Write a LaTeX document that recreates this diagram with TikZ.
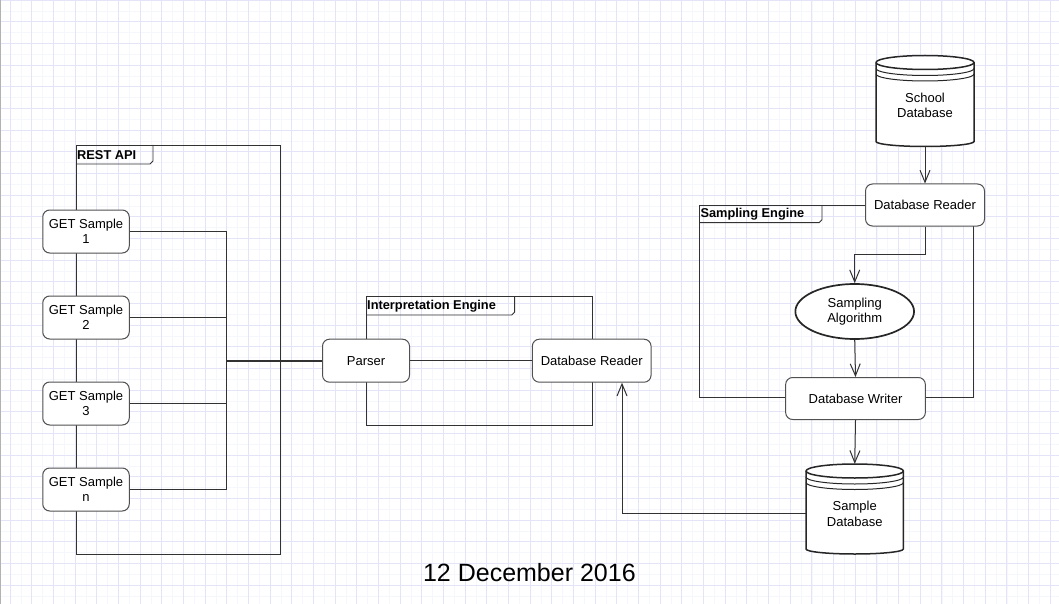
\documentclass[tikz,border=0pt]{standalone}
\usepackage{fontspec}
\setmainfont{Liberation Sans}
\usetikzlibrary{arrows.meta,calc,shapes.geometric}
\definecolor{gridA}{RGB}{228,228,249}
\definecolor{gridB}{RGB}{246,246,253}
\definecolor{edgec}{RGB}{50,50,50}
\definecolor{boxline}{RGB}{80,80,80}
\newcommand\dbcyl[4]{%
  \filldraw[draw=black!85, fill=white, line width=1.5pt]
    ({#1-#4},{#2+7}) -- ({#1-#4},{#3-5})
    arc[start angle=180,end angle=360,x radius=#4pt,y radius=5pt]
    -- ({#1+#4},{#2+7})
    arc[start angle=0,end angle=180,x radius=#4pt,y radius=7pt] -- cycle;
  \draw[black!85, line width=1.5pt] ({#1-#4},{#2+7})
    arc[start angle=180,end angle=360,x radius=#4pt,y radius=7pt];
  \draw[black!85, line width=1pt] ({#1-#4},{#2+13})
    arc[start angle=180,end angle=360,x radius=#4pt,y radius=7pt];
  \draw[black!85, line width=1pt] ({#1-#4},{#2+18.5})
    arc[start angle=180,end angle=360,x radius=#4pt,y radius=7pt];
}
\begin{document}
\begin{tikzpicture}[x=1pt,y=-1pt,
  txt/.style={font=\fontsize{13}{15.5}\selectfont, align=center},
  rbox/.style={txt, draw=boxline, fill=white, line width=1pt, rounded corners=7pt, inner sep=0pt},
  frameline/.style={draw=edgec, line width=0.95pt},
  tablbl/.style={font=\bfseries\fontsize{12.8}{15}\selectfont, anchor=west, inner sep=1pt},
  conn/.style={draw=edgec, line width=1pt},
  arr/.style={conn, -{Straight Barb[length=12pt,width=10pt,line width=1pt]}},
  cylhold/.style={inner sep=0pt, draw=none},
]
\useasboundingbox (0,0) rectangle (1059,604);
\fill[white] (0,0) rectangle (1059,604);
% grid
\foreach \i in {0,...,98} {\draw[gridB, line width=0.6pt] ({10+10.835*\i},0) -- ({10+10.835*\i},604);}
\foreach \i in {0,...,56} {\draw[gridB, line width=0.6pt] (0,{10.835*\i}) -- (1059,{10.835*\i});}
\foreach \i in {0,...,49} {\draw[gridA, line width=0.9pt] ({10+21.67*\i},0) -- ({10+21.67*\i},604);}
\foreach \i in {0,...,28} {\draw[gridA, line width=0.9pt] (0,{21.67*\i}) -- (1059,{21.67*\i});}
\draw[black!30, line width=1pt] (0.5,0) -- (0.5,604);

% frames
\draw[frameline] (76,145) rectangle (280,554);
\draw[frameline] (76,164) -- (150,164) -- (153,161) -- (153,145);
\node[tablbl] (tabrest) at (76,155) {REST API};

\draw[frameline] (366,296) rectangle (592,425.3);
\draw[frameline] (366,315) -- (511.7,315) -- (514.7,312) -- (514.7,296);
\node[tablbl] (tabinterp) at (366,306) {Interpretation Engine};

\draw[frameline] (699.3,205) rectangle (973.3,397.7);
\draw[frameline] (699.3,222.7) -- (819,222.7) -- (822,219.7) -- (822,205);
\node[tablbl] (tabsamp) at (699.3,214.3) {Sampling Engine};

% nodes
\node[rbox, minimum width=86.5pt, minimum height=43pt] (g1) at (86,231.5) {GET Sample\\1};
\node[rbox, minimum width=86.5pt, minimum height=43pt] (g2) at (86,317.5) {GET Sample\\2};
\node[rbox, minimum width=86.5pt, minimum height=43pt] (g3) at (86,403.5) {GET Sample\\3};
\node[rbox, minimum width=86.5pt, minimum height=43pt] (gn) at (86,489.5) {GET Sample\\n};

\node[rbox, minimum width=87pt, minimum height=43pt] (parser) at (366,360.7) {Parser};
\node[rbox, minimum width=118.7pt, minimum height=43pt] (idbr) at (591.7,360.7) {Database Reader};

\node[rbox, minimum width=119pt, minimum height=42pt] (sdbr) at (925,205) {Database Reader};
\node[txt, ellipse, draw=black!85, fill=white, line width=1.7pt, inner sep=0pt,
      minimum width=118.7pt, minimum height=55pt] (alg) at (854.7,311.5) {Sampling\\Algorithm};
\node[rbox, minimum width=139.7pt, minimum height=42pt] (dbw) at (855.5,398.5) {Database Writer};

\dbcyl{925}{55.5}{146.5}{49}
\node[cylhold, minimum width=98pt, minimum height=91pt] (sch) at (925,101) {};
\node[txt] (scht) at (925,105.5) {School\\Database};

\dbcyl{854.7}{464}{554}{48.7}
\node[cylhold, minimum width=97.4pt, minimum height=90pt] (smp) at (854.7,509) {};
\node[txt] (smpt) at (854.7,513.7) {Sample\\Database};

\node[font=\fontsize{25}{30}\selectfont, anchor=base, inner sep=0pt] (date) at (529.4,581.7) {12 December 2016};

% connectors
\coordinate (bus) at (226,360.7);
\draw[conn] (g1.east) -| (bus);
\draw[conn] (g2.east) -| (bus);
\draw[conn] (g3.east) -| (bus);
\draw[conn] (gn.east) -| (bus);
\draw[conn, line width=2pt] (bus) -- (parser.west);
\draw[conn] (parser.east) -- (idbr.west);
\draw[arr] (smp.west |- smpt.center) -| ($(idbr.south)+(30.3,0)$);

\draw[arr] (sch.south) -- (sdbr.north);
\draw[arr] (sdbr.south) |- ($(alg.north)+(0,-29)$) -- (alg.north);
\draw[arr] (alg.south) -- (dbw.north);
\draw[arr] (dbw.south) -- (smp.north);
\end{tikzpicture}
\end{document}
